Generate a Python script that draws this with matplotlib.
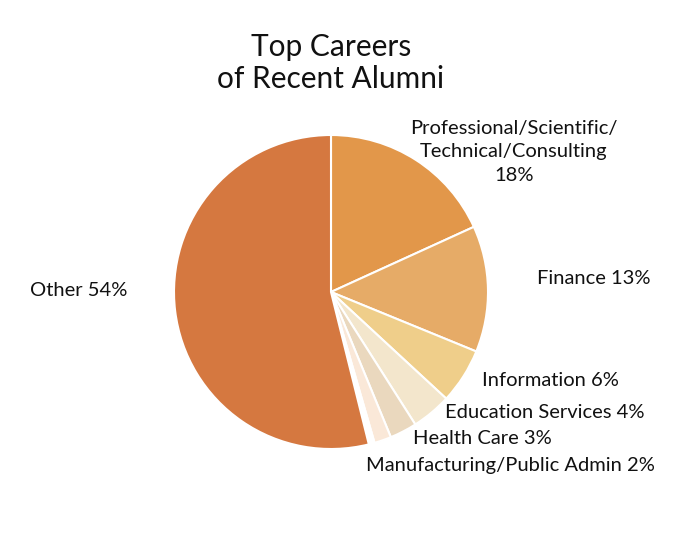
import matplotlib.pyplot as plt

categories = ['Professional/Scientific/\nTechnical/Consulting', 'Finance', 'Information',
              'Education Services', 'Health Care', 'Manufacturing/Public Admin', '', 'Other']
shares = [18.2, 13.0, 5.7, 4.1, 2.8, 1.75, 0.6, 53.9]
pct_labels = ['18%', '13%', '6%', '4%', '3%', '2%', '', '54%']
colors = ['#E2974A', '#E6AB67', '#EFCE8A', '#F3E6CC', '#EAD8BE', '#FAE8D8', '#FFFFFF', '#D57840']

plt.rcParams['font.family'] = ['Lato', 'DejaVu Sans']

W, H = 688, 536
fig = plt.figure(figsize=(W / 100, H / 100), dpi=100)
ax = fig.add_axes([0, 0, 1, 1])

ax.pie(shares, colors=colors, startangle=90, counterclock=False,
       center=(331, H - 292), radius=157, frame=True,
       wedgeprops=dict(edgecolor='white', linewidth=1.5))
ax.set_xlim(0, W)
ax.set_ylim(0, H)
ax.set_aspect('equal')
ax.axis('off')

ax.text(331, H - 63, 'Top Careers\nof Recent Alumni', ha='center', va='center',
        fontsize=21.5, linespacing=1.2, color='#111111')

# label positions (pixel coords from top-left)
label_pos = [(514, 152), (594, 278), (550, 381), (545, 412), (482, 439), (510, 465),
             None, (79, 290)]
for cat, pct, pos in zip(categories, pct_labels, label_pos):
    if pos is None:
        continue
    x, y = pos
    if '\n' in cat:
        txt = cat + '\n' + pct
    else:
        txt = cat + ' ' + pct
    ax.text(x, H - y, txt, ha='center', va='center', fontsize=14.5, linespacing=1.45,
            color='#111111')

fig.savefig('out.png', dpi=100, facecolor='white')
